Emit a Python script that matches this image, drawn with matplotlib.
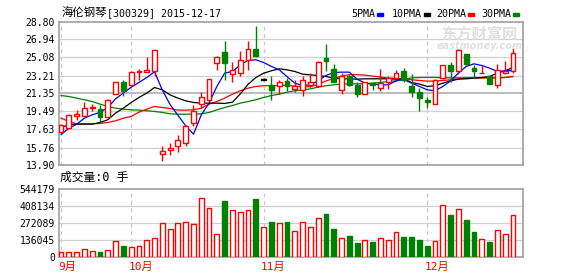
import numpy as np
import matplotlib as mpl
import matplotlib.pyplot as plt
from matplotlib import transforms

mpl.use('Agg')

mono = ['DejaVu Sans Mono', 'Noto Sans CJK SC']
cjk = ['Noto Sans CJK SC', 'DejaVu Sans']

# daily candles
opens = [17.32, 17.83, 19.04, 19.04, 19.83, 19.70, 18.94, 21.25, 22.52, 22.18,
         23.62, 23.60, 23.63, 15.11, 15.46, 15.87, 16.18, 18.28, 20.25, 20.63,
         24.46, 25.63, 23.39, 23.46, 24.77, 25.94, 22.77, 22.25, 22.08, 22.66,
         21.83, 21.66, 22.25, 22.08, 25.01, 23.87, 21.66, 23.11, 22.25, 21.32,
         22.42, 21.97, 22.49, 22.94, 23.63, 22.15, 21.49, 20.70, 20.28, 22.94,
         24.25, 23.70, 25.42, 23.97, 23.46, 23.11, 22.25, 23.46, 23.63]
closes = [18.11, 19.08, 19.18, 19.90, 19.94, 18.94, 20.63, 22.49, 21.63, 23.56,
          23.72, 23.75, 25.80, 15.35, 15.70, 16.49, 17.94, 19.59, 20.94, 22.90,
          25.08, 24.52, 23.73, 24.77, 25.97, 25.18, 22.77, 21.73, 22.49, 22.08,
          22.15, 22.73, 22.49, 24.59, 24.73, 22.59, 23.21, 22.25, 21.32, 22.49,
          22.25, 22.39, 22.94, 23.52, 22.77, 21.49, 20.87, 20.42, 22.77, 24.25,
          23.70, 25.87, 24.39, 23.70, 23.52, 22.35, 23.73, 23.63, 25.52]
highs = [18.15, 19.20, 19.63, 20.52, 20.25, 20.11, 20.73, 22.49, 22.77, 23.70,
         23.90, 25.10, 25.87, 15.87, 16.21, 17.08, 18.04, 20.11, 21.49, 22.90,
         25.28, 26.77, 24.66, 25.70, 26.77, 28.32, 23.00, 23.11, 22.70, 23.00,
         22.77, 23.18, 23.46, 24.73, 26.46, 24.39, 23.46, 23.28, 22.49, 22.59,
         22.42, 23.87, 23.11, 23.80, 23.97, 23.35, 21.97, 20.97, 22.80, 24.25,
         24.66, 25.94, 25.48, 24.32, 24.25, 23.28, 24.42, 24.73, 26.04]
lows = [17.30, 17.80, 18.59, 19.00, 19.56, 18.35, 18.90, 21.25, 21.14, 22.15,
        22.70, 23.55, 23.11, 14.39, 15.00, 15.25, 15.94, 17.94, 19.83, 20.42,
        23.80, 22.73, 22.49, 23.11, 23.80, 25.15, 22.77, 20.70, 21.32, 21.56,
        21.49, 21.11, 22.01, 22.01, 23.70, 22.52, 21.32, 22.08, 21.01, 21.30,
        21.73, 21.63, 21.80, 22.83, 22.59, 20.97, 19.56, 19.90, 20.25, 22.83,
        22.59, 23.35, 24.35, 22.94, 23.44, 22.33, 21.90, 23.35, 23.46]
volumes = [37500, 37500, 37500, 61700, 45600, 37500, 53600, 126000, 88500, 77700,
           85800, 136700, 150000, 270800, 222500, 270800, 278800, 262700, 472000, 391000,
           182000, 450000, 375000, 359000, 375000, 466000, 239000, 281000, 271000, 281000,
           206000, 279000, 239000, 311000, 346000, 225000, 150000, 169000, 113000, 134000,
           121000, 150000, 134000, 198000, 161000, 161000, 137000, 88500, 126000, 416000,
           338000, 383000, 298000, 201000, 142000, 121000, 217000, 182000, 335000]

ma5 = [17.10, 17.75, 18.17, 18.80, 19.14, 19.40, 19.90, 20.80, 21.40, 22.00,
       22.50, 23.00, 23.60, 21.70, 20.20, 19.10, 18.00, 17.14, 19.14, 20.35,
       22.08, 23.46, 23.63, 24.32, 24.77, 24.84, 24.56, 24.15, 23.80, 23.10,
       22.42, 22.18, 22.25, 22.66, 23.21, 23.52, 23.56, 23.56, 22.83, 22.42,
       22.32, 22.25, 22.25, 22.66, 22.80, 22.42, 22.08, 21.73, 21.63, 22.08,
       22.66, 23.46, 24.15, 24.42, 24.25, 23.97, 23.63, 23.70, 23.73]
ma10 = [17.83, 18.11, 18.18, 18.18, 18.18, 18.35, 18.63, 19.32, 19.83, 20.42,
        20.94, 21.39, 21.97, 21.73, 21.20, 20.87, 20.59, 20.42, 20.35, 20.35,
        20.35, 20.32, 20.45, 21.30, 22.30, 23.00, 23.45, 23.70, 23.90, 23.80,
        23.63, 23.35, 23.28, 23.21, 23.11, 22.94, 22.87, 22.87, 22.83, 22.87,
        22.87, 22.87, 22.87, 22.83, 22.85, 22.49, 22.32, 22.08, 22.15, 22.42,
        22.66, 22.83, 22.87, 22.94, 23.01, 23.11, 23.46, 23.70, 24.04]
ma20 = [18.80, 18.46, 18.21, 18.21, 18.21, 18.25, 18.35, 18.52, 18.80, 18.97,
        19.42, 19.73, 20.01, 19.90, 19.80, 19.63, 19.63, 19.66, 19.83, 20.25,
        20.52, 20.87, 21.28, 21.63, 21.90, 22.08, 22.15, 22.15, 22.18, 22.20,
        22.10, 22.05, 22.05, 22.30, 22.65, 22.90, 23.15, 23.30, 23.30, 23.25,
        23.15, 23.05, 22.95, 22.90, 22.87, 22.77, 22.70, 22.63, 22.63, 22.70,
        22.77, 22.87, 22.97, 22.97, 22.97, 22.97, 22.97, 23.01, 23.11]
ma30 = [21.14, 21.04, 20.87, 20.70, 20.52, 20.25, 20.01, 19.83, 19.73, 19.66,
        19.63, 19.56, 19.49, 19.39, 19.25, 19.21, 19.21, 19.21, 19.25, 19.39,
        19.66, 19.90, 20.11, 20.35, 20.52, 20.70, 20.94, 21.14, 21.28, 21.49,
        21.63, 21.73, 21.83, 22.01, 22.15, 22.25, 22.32, 22.35, 22.35, 22.35,
        22.42, 22.49, 22.59, 22.66, 22.80, 22.97, 23.00, 23.01, 23.01, 22.97,
        22.97, 22.97, 22.97, 22.97, 22.97, 22.97, 22.97, 23.00, 23.11]

price_ticks = [13.90, 15.76, 17.63, 19.49, 21.35, 23.21, 25.08, 26.94, 28.80]
vol_ticks = [0, 136045, 272089, 408134, 544179]
month_idx = [0, 9, 26, 47]
month_labels = ['9月', '10月', '11月', '12月']

RED = '#ff0000'
GREEN = '#008000'
GRID = '#d0d0d0'
FRAME = '#a0a0a0'

fig = plt.figure(figsize=(5.78, 2.76), dpi=100)
ax1 = fig.add_axes([0.1021, 0.4004, 0.8022, 0.5217])
ax2 = fig.add_axes([0.1021, 0.0688, 0.8022, 0.2464])

x = np.arange(len(opens))

# moving averages
for ma, col in [(ma30, GREEN), (ma20, RED), (ma10, 'black'), (ma5, '#0000ff')]:
    ax1.plot(x, ma, color=col, lw=0.9, zorder=3)

# candles
for i in x:
    o, c = opens[i], closes[i]
    if c > o:
        col, fc = RED, 'white'
    elif c < o:
        col, fc = GREEN, GREEN
    else:
        col, fc = 'black', 'black'
    ax1.vlines(i, lows[i], highs[i], color=col, lw=1, zorder=4)
    h = max(abs(c - o), 0.03)
    ax1.bar(i, h, bottom=min(o, c), width=0.62, facecolor=fc, edgecolor=col,
            lw=1, zorder=5)
    vcol = GREEN if c < o else RED
    vfc = GREEN if c < o else 'white'
    ax2.bar(i, volumes[i], width=0.62, facecolor=vfc, edgecolor=vcol, lw=1, zorder=5)

for ax in (ax1, ax2):
    ax.set_xlim(-0.26, 59.25)
    for s in ax.spines.values():
        s.set_color(FRAME)
        s.set_linewidth(1.2)
    ax.tick_params(length=0, pad=3, labelsize=7, labelcolor='black')
    ax.set_xticks([])
    for m in month_idx:
        ax.axvline(m, color='#c8c8c8', lw=0.9, ls=(0, (3, 3)), zorder=1)

ax1.set_ylim(13.90, 28.80)
ax1.set_yticks(price_ticks)
ax1.set_yticklabels(['%.2f' % t for t in price_ticks], family=mono, fontsize=7)
for t in price_ticks[1:-1]:
    if t == 21.35:
        ax1.axhline(t, color='#a8a8a8', lw=1.1, zorder=1)
    else:
        ax1.axhline(t, color=GRID, lw=0.9, zorder=1)

ax2.set_ylim(0, 544179)
ax2.set_yticks(vol_ticks)
ax2.set_yticklabels([str(t) for t in vol_ticks], family=mono, fontsize=7)
for t in vol_ticks[1:-1]:
    ax2.axhline(t, color=GRID, lw=0.9, zorder=1)

trans = transforms.blended_transform_factory(ax2.transData, ax2.transAxes)
for m, lab in zip(month_idx, month_labels):
    ax2.text(m - 0.35, -0.15, lab, transform=trans, family=mono, fontsize=8,
             color=RED, ha='left', va='center')

# header texts
fig.text(62 / 578, 1 - 13.5 / 276, '海伦钢琴', family=cjk, fontsize=8.2, va='center')
fig.text(107 / 578, 1 - 13.5 / 276, '[300329] 2015-12-17', family=mono, fontsize=7.2,
         va='center')
fig.text(60 / 578, 1 - 177.5 / 276, '成交量:0 手', family=mono, fontsize=8.5, va='center')

# legend
leg = [('5PMA', 351.7, '#0000ff'), ('10PMA', 392, 'black'),
       ('20PMA', 436.7, RED), ('30PMA', 481, GREEN)]
for name, px, col in leg:
    fig.text(px / 578, 1 - 14.3 / 276, name, family=mono, fontsize=7.2, va='center')
    w = len(name) * 6.0
    fig.patches.append(plt.Rectangle(((px + w + 1.5) / 578, 1 - 15.5 / 276), 6 / 578,
                                     2.6 / 276, transform=fig.transFigure,
                                     color=col, figure=fig))

# watermark
fig.text(479 / 578, 1 - 34 / 276, '东方财富网', family=cjk, fontsize=11, weight='bold',
         color='#e0e0e0', ha='center', va='center', zorder=0)
fig.text(480 / 578, 1 - 46.3 / 276, 'eastmoney.com', family='DejaVu Sans', fontsize=7,
         weight='bold', style='italic', color='#e0e0e0', ha='center', va='center', zorder=0)

fig.savefig('out.png', dpi=100)
